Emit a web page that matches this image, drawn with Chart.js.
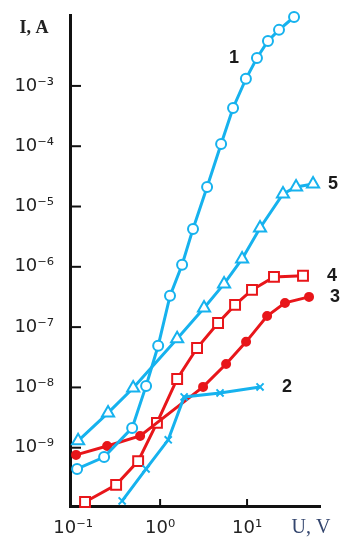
<!DOCTYPE html>
<html>
<head>
<meta charset="utf-8">
<script src="https://cdn.jsdelivr.net/npm/chart.js@4.4.1/dist/chart.umd.min.js"></script>
<style>
  body { margin: 0; background: #fff; }
  canvas { display: block; }
</style>
</head>
<body>
<canvas id="ivChart" width="342" height="546"></canvas>
<script>
// I-V curves, log-log (U in V, I in A)
const voltage1 = [0.111, 0.227, 0.477, 0.69, 0.95, 1.3, 1.79, 2.39, 3.47, 5.03, 6.9, 9.7, 13.0, 17.4, 23.3, 34.7];
const current1 = [4.45e-10, 7.0e-10, 2.13e-9, 1.06e-8, 4.9e-8, 3.3e-7, 1.08e-6, 4.25e-6, 2.11e-5, 1.09e-4, 4.3e-4, 1.31e-3, 2.91e-3, 5.57e-3, 8.5e-3, 1.39e-2];

const voltage2 = [0.366, 0.69, 1.24, 1.89, 4.89, 14.1];
const current2 = [1.31e-10, 4.45e-10, 1.35e-9, 6.95e-9, 8.1e-9, 1.02e-8];

const voltage3 = [0.108, 0.246, 0.589, 3.12, 5.74, 9.74, 17.0, 27.3, 51.6];
const current3 = [7.6e-10, 1.07e-9, 1.57e-9, 1.02e-8, 2.45e-8, 5.7e-8, 1.53e-7, 2.52e-7, 3.17e-7];

const voltage4 = [0.137, 0.312, 0.559, 0.92, 1.57, 2.66, 4.64, 7.28, 11.4, 20.4, 44.0];
const current4 = [1.26e-10, 2.42e-10, 6.0e-10, 2.58e-9, 1.38e-8, 4.5e-8, 1.17e-7, 2.34e-7, 4.14e-7, 6.8e-7, 7.1e-7];

const voltage5 = [0.114, 0.252, 0.49, 1.57, 3.2, 5.44, 8.77, 14.1, 25.9, 36.6, 57.4];
const current5 = [1.30e-9, 3.78e-9, 9.8e-9, 6.4e-8, 2.08e-7, 5.2e-7, 1.35e-6, 4.4e-6, 1.62e-5, 2.11e-5, 2.37e-5];

const xTickValues = [0.1, 1, 10];
const yTickValues = [1e-9, 1e-8, 1e-7, 1e-6, 1e-5, 1e-4, 1e-3];

const xMin = 0.092, xMax = 69;
const yMin = 1.08e-10, yMax = 0.015;

const CYAN = '#16b2ee';
const RED = '#e8161a';
const AXIS = '#111111';

const SUP = { '-': '\u207B', '0': '\u2070', '1': '\u00B9', '2': '\u00B2', '3': '\u00B3', '4': '\u2074',
              '5': '\u2075', '6': '\u2076', '7': '\u2077', '8': '\u2078', '9': '\u2079' };

function powerLabel(value) {
    const exp = String(Math.round(Math.log10(value)));
    return '10' + exp.split('').map(c => SUP[c]).join('');
}

function toPoints(xs, ys) {
    return xs.map((v, i) => ({ x: v, y: ys[i] }));
}

function makeSet(label, xs, ys, color, style, radius, filled) {
    return {
        label: label,
        data: toPoints(xs, ys),
        borderColor: color,
        borderWidth: 3,
        tension: 0,
        pointStyle: style,
        pointRadius: radius,
        pointBorderWidth: 2,
        pointBorderColor: color,
        pointBackgroundColor: filled ? color : '#ffffff',
        clip: false
    };
}

// curve number: which point it sits next to, and a small pixel nudge
const nameAnchors = [
    { name: '1', index: 12, dx: -23, dy: 0 },
    { name: '2', index: 5, dx: 27, dy: 0 },
    { name: '3', index: 8, dx: 26, dy: 0 },
    { name: '4', index: 10, dx: 29, dy: 0 },
    { name: '5', index: 10, dx: 20, dy: 0 }
];

const decorPlugin = {
    id: 'decor',
    beforeDatasetsDraw(chart) {
        const { ctx, chartArea, scales: { x, y } } = chart;
        ctx.save();
        ctx.strokeStyle = AXIS;
        ctx.lineWidth = 2;
        y.ticks.forEach(t => {
            const py = y.getPixelForValue(t.value);
            ctx.beginPath();
            ctx.moveTo(chartArea.left, py);
            ctx.lineTo(chartArea.left + 11, py);
            ctx.stroke();
        });
        x.ticks.forEach(t => {
            if (t.value < 0.5) return;
            const px = x.getPixelForValue(t.value);
            ctx.beginPath();
            ctx.moveTo(px, chartArea.bottom);
            ctx.lineTo(px, chartArea.bottom - 7);
            ctx.stroke();
        });
        ctx.restore();
    },
    afterDraw(chart) {
        const { ctx, chartArea, scales: { x, y } } = chart;
        ctx.save();
        ctx.fillStyle = '#1a1a1a';
        ctx.font = 'bold 18px "Liberation Sans", Arial, sans-serif';
        ctx.textAlign = 'center';
        ctx.textBaseline = 'middle';
        nameAnchors.forEach(a => {
            const ds = chart.data.datasets.find(d => d.label === a.name);
            if (!ds) return;
            const pt = ds.data[Math.min(a.index, ds.data.length - 1)];
            ctx.fillText(a.name, x.getPixelForValue(pt.x) + a.dx, y.getPixelForValue(pt.y) + a.dy);
        });

        ctx.font = 'bold 18px "Liberation Serif", "Times New Roman", serif';
        ctx.fillStyle = '#222222';
        ctx.fillText('I, A', chartArea.left - 36, chartArea.top + 13);

        ctx.font = '20px "Liberation Serif", "Times New Roman", serif';
        ctx.fillStyle = '#34466e';
        ctx.fillText('U, V', chartArea.right - 9, chartArea.bottom + 22);
        ctx.restore();
    }
};

const ctx = document.getElementById('ivChart');

new Chart(ctx, {
    type: 'line',
    data: {
        datasets: [
            makeSet('1', voltage1, current1, CYAN, 'circle', 5, false),
            makeSet('2', voltage2, current2, CYAN, 'crossRot', 5, false),
            makeSet('5', voltage5, current5, CYAN, 'triangle', 7, false),
            makeSet('3', voltage3, current3, RED, 'circle', 4, true),
            makeSet('4', voltage4, current4, RED, 'rect', 7, false)
        ]
    },
    options: {
        responsive: false,
        animation: false,
        layout: { padding: { top: 15, right: 22, left: 0, bottom: 0 } },
        plugins: {
            legend: { display: false },
            tooltip: { enabled: false },
            title: { display: false }
        },
        scales: {
            x: {
                type: 'logarithmic',
                min: xMin,
                max: xMax,
                afterBuildTicks: scale => { scale.ticks = xTickValues.map(v => ({ value: v })); },
                afterFit: scale => {
                    scale.height = 40;
                    scale.paddingLeft = 0;
                    scale.paddingRight = 0;
                },
                grid: { display: false, drawTicks: false },
                border: { display: true, color: AXIS, width: 3 },
                ticks: {
                    autoSkip: false,
                    maxRotation: 0,
                    padding: 12,
                    color: '#222222',
                    font: { family: '"DejaVu Sans", Verdana, sans-serif', size: 18 },
                    callback: value => powerLabel(value)
                }
            },
            y: {
                type: 'logarithmic',
                min: yMin,
                max: yMax,
                afterBuildTicks: scale => { scale.ticks = yTickValues.map(v => ({ value: v })); },
                afterFit: scale => {
                    scale.width = 70;
                    scale.paddingTop = 0;
                    scale.paddingBottom = 0;
                },
                grid: { display: false, drawTicks: false },
                border: { display: true, color: AXIS, width: 3 },
                ticks: {
                    autoSkip: false,
                    padding: 16,
                    color: '#222222',
                    font: { family: '"DejaVu Sans", Verdana, sans-serif', size: 18 },
                    callback: value => powerLabel(value)
                }
            }
        }
    },
    plugins: [decorPlugin]
});
</script>
</body>
</html>
